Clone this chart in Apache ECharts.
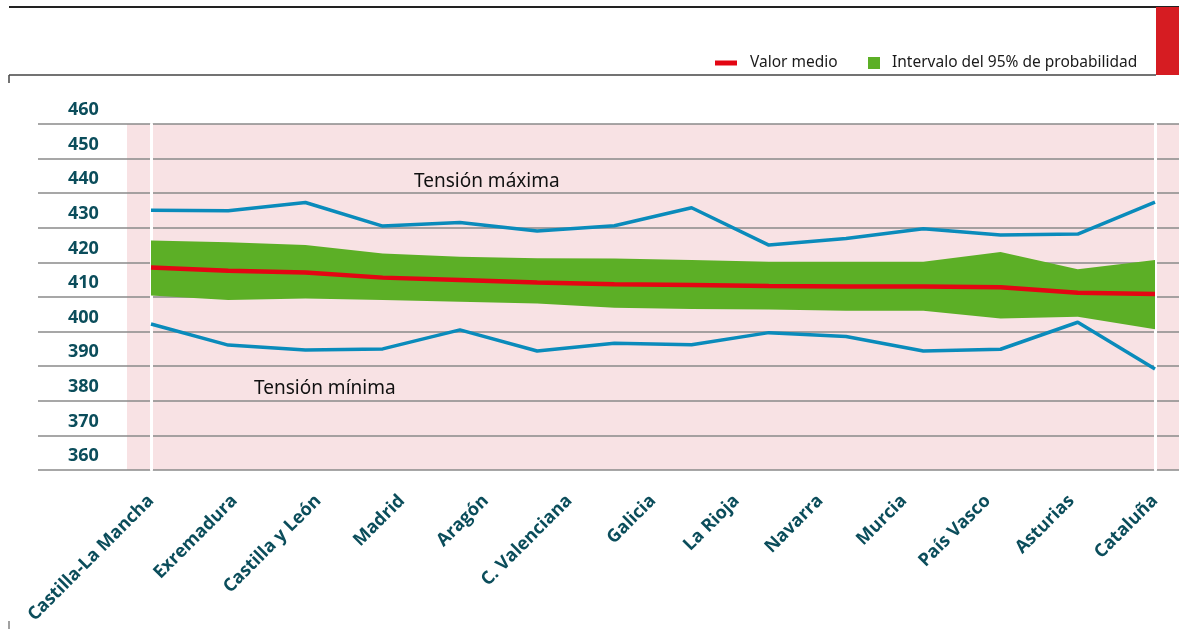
<!DOCTYPE html>
<html>
<head>
    <meta charset="utf-8">
    <title>Tensión por comunidad autónoma</title>
    <script src="https://cdn.jsdelivr.net/npm/echarts@6/dist/echarts.min.js"></script>
    <style>
        html, body { margin: 0; padding: 0; background: #fff; }
        #chart { width: 1179px; height: 629px; }
    </style>
</head>
<body>
    <div id="chart"></div>
    <script>
        // comunidades (etiquetas del eje X)
        var comunidades = ['Castilla-La Mancha', 'Exremadura', 'Castilla y León', 'Madrid', 'Aragón', 'C. Valenciana',
            'Galicia', 'La Rioja', 'Navarra', 'Murcia', 'País Vasco', 'Asturias', 'Cataluña'];
        // puntos de medida de las curvas (14 puntos en el gráfico original)
        var puntos = ['1', '2', '3', '4', '5', '6', '7', '8', '9', '10', '11', '12', '13', '14'];

        var tensionMax = [435.1, 434.9, 437.3, 430.5, 431.5, 429.1, 430.6, 435.8, 425.0, 426.9, 429.7, 427.9, 428.2, 437.4];
        var valorMedio = [418.5, 417.6, 417.1, 415.6, 414.9, 414.2, 413.7, 413.5, 413.2, 413.0, 413.0, 412.8, 411.2, 410.9];
        var intervaloSup = [426.3, 425.8, 425.0, 422.6, 421.6, 421.2, 421.1, 420.7, 420.2, 420.2, 420.2, 423.0, 418.0, 420.7];
        var intervaloInf = [410.4, 409.1, 409.6, 409.1, 408.6, 408.1, 406.9, 406.5, 406.4, 406.0, 406.0, 403.8, 404.3, 400.7];
        var tensionMin = [402.2, 396.1, 394.7, 395.0, 400.5, 394.4, 396.6, 396.2, 399.7, 398.6, 394.4, 394.9, 402.7, 389.2];

        // eje Y
        var yMin = 360, yMax = 460, yPaso = 10;

        var azul = '#0a8bbb', rojo = '#e30613', verde = '#5caf26', rosa = '#f8e2e4', teal = '#0b4d5b';
        var gris = { color: '#8a8a8a', width: 1.5 };

        var anchoBanda = intervaloSup.map(function (v, i) { return +(v - intervaloInf[i]).toFixed(1); });

        var chart = echarts.init(document.getElementById('chart'));

        var option = {
            animation: false,
            backgroundColor: '#fff',
            legend: [
                {
                    left: 715, top: 55, padding: 0,
                    itemWidth: 22, itemHeight: 5,
                    data: [{ name: 'Valor medio', icon: 'rect' }],
                    textStyle: { fontFamily: 'Noto Sans', fontSize: 15.5, color: '#1a1a1a', padding: [0, 0, 0, 8] }
                },
                {
                    left: 868, top: 55, padding: 0,
                    itemWidth: 12, itemHeight: 12,
                    data: [{ name: 'Intervalo del 95% de probabilidad', icon: 'rect' }],
                    textStyle: { fontFamily: 'Noto Sans', fontSize: 15.5, color: '#1a1a1a', padding: [0, 0, 0, 7] }
                }
            ],
            grid: [
                { left: 38, width: 89, top: 124, bottom: 159, show: false },
                { left: 127, right: 0, top: 124, bottom: 159, show: true, backgroundColor: rosa, borderWidth: 0 },
                { left: 151, right: 24, top: 124, bottom: 159, show: false }
            ],
            xAxis: [
                { gridIndex: 0, type: 'value', min: 0, max: 1, show: false },
                { gridIndex: 1, type: 'value', min: 0, max: 1, show: false },
                {
                    gridIndex: 2, type: 'category', data: comunidades, boundaryGap: false,
                    axisLine: { show: false }, axisTick: { show: false }, splitLine: { show: false },
                    axisLabel: {
                        interval: 0, rotate: 45, margin: 28,
                        color: teal, fontFamily: 'Open Sans', fontWeight: 'bold', fontSize: 18
                    }
                },
                { gridIndex: 2, type: 'category', data: puntos, boundaryGap: false, show: false }
            ],
            yAxis: [
                {
                    gridIndex: 0, type: 'value', min: yMin, max: yMax, interval: yPaso,
                    axisLine: { show: false }, axisTick: { show: false },
                    splitLine: { lineStyle: gris },
                    axisLabel: {
                        inside: true, margin: 30, color: teal,
                        showMinLabel: true, showMaxLabel: true,
                        verticalAlign: 'bottom', lineHeight: 28,
                        fontFamily: 'Open Sans', fontWeight: 'bold', fontSize: 18
                    }
                },
                {
                    gridIndex: 1, type: 'value', min: yMin, max: yMax, interval: yPaso,
                    axisLine: { show: false }, axisTick: { show: false }, axisLabel: { show: false },
                    splitLine: { lineStyle: gris }
                },
                {
                    gridIndex: 2, type: 'value', min: yMin, max: yMax, interval: yPaso, z: 1,
                    axisLine: { show: true, lineStyle: { color: '#fff', width: 3 } },
                    axisTick: { show: false }, axisLabel: { show: false }, splitLine: { show: false }
                },
                {
                    gridIndex: 2, type: 'value', position: 'right', min: yMin, max: yMax, interval: yPaso, z: 1,
                    axisLine: { show: true, lineStyle: { color: '#fff', width: 3 } },
                    axisTick: { show: false }, axisLabel: { show: false }, splitLine: { show: false }
                }
            ],
            series: [
                {
                    name: 'base', type: 'line', xAxisIndex: 3, yAxisIndex: 2, stack: 'banda',
                    data: intervaloInf, symbol: 'none', lineStyle: { width: 0, opacity: 0 }, silent: true
                },
                {
                    name: 'Intervalo del 95% de probabilidad', type: 'line', xAxisIndex: 3, yAxisIndex: 2, stack: 'banda',
                    data: anchoBanda, symbol: 'none', color: verde,
                    lineStyle: { width: 0, opacity: 0 }, areaStyle: { color: verde, opacity: 1 }
                },
                {
                    name: 'Valor medio', type: 'line', xAxisIndex: 3, yAxisIndex: 2, z: 4,
                    data: valorMedio, symbol: 'none', color: rojo, lineStyle: { width: 4.5, color: rojo }
                },
                {
                    name: 'Tensión máxima', type: 'line', xAxisIndex: 3, yAxisIndex: 2, z: 3,
                    data: tensionMax, symbol: 'none', color: azul, lineStyle: { width: 3.5, color: azul }
                },
                {
                    name: 'Tensión mínima', type: 'line', xAxisIndex: 3, yAxisIndex: 2, z: 3,
                    data: tensionMin, symbol: 'none', color: azul, lineStyle: { width: 3.5, color: azul }
                }
            ],
            graphic: [
                { type: 'line', shape: { x1: 9, y1: 7, x2: 1179, y2: 7 }, style: { stroke: '#222', lineWidth: 2 } },
                { type: 'line', shape: { x1: 9, y1: 75, x2: 1156, y2: 75 }, style: { stroke: '#444', lineWidth: 1.5 } },
                { type: 'line', shape: { x1: 9, y1: 75, x2: 9, y2: 83 }, style: { stroke: '#444', lineWidth: 1.5 } },
                { type: 'line', shape: { x1: 9, y1: 621, x2: 9, y2: 629 }, style: { stroke: '#444', lineWidth: 1 } },
                { type: 'rect', shape: { x: 1156, y: 7, width: 23, height: 68 }, style: { fill: '#d61c22' } },
                {
                    type: 'text', left: 414, top: 172, z: 10,
                    style: { text: 'Tensión máxima', font: '19px "Noto Sans"', fill: '#111' }
                },
                {
                    type: 'text', left: 254, top: 379, z: 10,
                    style: { text: 'Tensión mínima', font: '19px "Noto Sans"', fill: '#111' }
                }
            ]
        };
        chart.setOption(option);
    </script>
</body>
</html>
